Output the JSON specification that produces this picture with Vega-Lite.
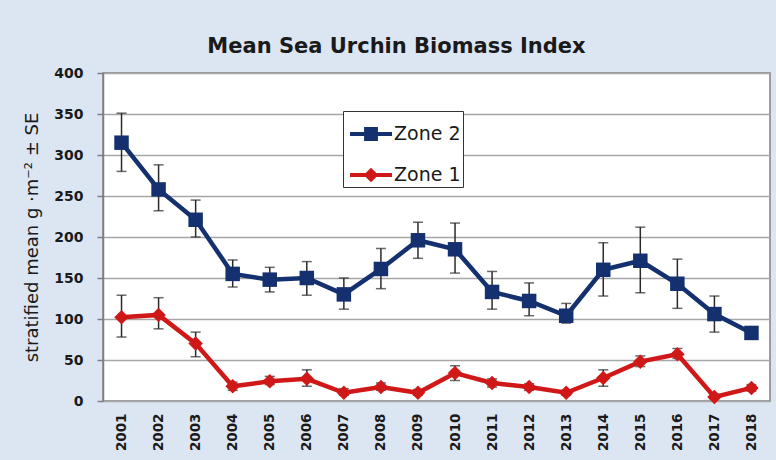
{
  "$schema": "https://vega.github.io/schema/vega-lite/v6.json",
  "width": 667,
  "height": 328,
  "autosize": {"type": "none"},
  "padding": {"left": 103, "top": 73, "right": 6, "bottom": 59},
  "background": "#dce6f2",
  "title": {
    "text": "Mean Sea Urchin Biomass Index",
    "font": "DejaVu Sans",
    "fontSize": 21,
    "fontWeight": "bold",
    "color": "#1a1a1a",
    "anchor": "middle",
    "frame": "bounds",
    "offset": 9
  },
  "config": {
    "view": {"stroke": "#808080", "strokeWidth": 1.5, "fill": "white"},
    "axis": {"labelColor": "#1a1a1a", "titleColor": "#1a1a1a"}
  },
  "data": {
    "values": [
      {"year": "2001", "zone": "Zone 2", "mean": 315, "lo": 280, "hi": 351},
      {"year": "2002", "zone": "Zone 2", "mean": 258, "lo": 232, "hi": 288},
      {"year": "2003", "zone": "Zone 2", "mean": 221, "lo": 200, "hi": 245},
      {"year": "2004", "zone": "Zone 2", "mean": 155, "lo": 139, "hi": 172},
      {"year": "2005", "zone": "Zone 2", "mean": 148, "lo": 133, "hi": 163},
      {"year": "2006", "zone": "Zone 2", "mean": 150, "lo": 129, "hi": 170},
      {"year": "2007", "zone": "Zone 2", "mean": 130, "lo": 112, "hi": 150},
      {"year": "2008", "zone": "Zone 2", "mean": 161, "lo": 137, "hi": 186},
      {"year": "2009", "zone": "Zone 2", "mean": 196, "lo": 174, "hi": 218},
      {"year": "2010", "zone": "Zone 2", "mean": 185, "lo": 156, "hi": 217},
      {"year": "2011", "zone": "Zone 2", "mean": 133, "lo": 112, "hi": 158},
      {"year": "2012", "zone": "Zone 2", "mean": 122, "lo": 104, "hi": 144},
      {"year": "2013", "zone": "Zone 2", "mean": 104, "lo": 95, "hi": 119},
      {"year": "2014", "zone": "Zone 2", "mean": 160, "lo": 128, "hi": 193},
      {"year": "2015", "zone": "Zone 2", "mean": 171, "lo": 132, "hi": 212},
      {"year": "2016", "zone": "Zone 2", "mean": 143, "lo": 113, "hi": 173},
      {"year": "2017", "zone": "Zone 2", "mean": 106, "lo": 84, "hi": 128},
      {"year": "2018", "zone": "Zone 2", "mean": 83, "lo": 83, "hi": 83},
      {"year": "2001", "zone": "Zone 1", "mean": 102, "lo": 78, "hi": 129},
      {"year": "2002", "zone": "Zone 1", "mean": 105, "lo": 88, "hi": 126},
      {"year": "2003", "zone": "Zone 1", "mean": 70, "lo": 54, "hi": 84},
      {"year": "2004", "zone": "Zone 1", "mean": 18, "lo": 13, "hi": 23},
      {"year": "2005", "zone": "Zone 1", "mean": 24, "lo": 20, "hi": 30},
      {"year": "2006", "zone": "Zone 1", "mean": 27, "lo": 18, "hi": 38},
      {"year": "2007", "zone": "Zone 1", "mean": 10, "lo": 7, "hi": 15},
      {"year": "2008", "zone": "Zone 1", "mean": 17, "lo": 13, "hi": 22},
      {"year": "2009", "zone": "Zone 1", "mean": 10, "lo": 7, "hi": 14},
      {"year": "2010", "zone": "Zone 1", "mean": 34, "lo": 25, "hi": 43},
      {"year": "2011", "zone": "Zone 1", "mean": 22, "lo": 17, "hi": 27},
      {"year": "2012", "zone": "Zone 1", "mean": 17, "lo": 13, "hi": 21},
      {"year": "2013", "zone": "Zone 1", "mean": 10, "lo": 7, "hi": 13},
      {"year": "2014", "zone": "Zone 1", "mean": 28, "lo": 18, "hi": 38},
      {"year": "2015", "zone": "Zone 1", "mean": 48, "lo": 42, "hi": 55},
      {"year": "2016", "zone": "Zone 1", "mean": 57, "lo": 52, "hi": 64},
      {"year": "2017", "zone": "Zone 1", "mean": 5, "lo": 3, "hi": 8},
      {"year": "2018", "zone": "Zone 1", "mean": 16, "lo": 12, "hi": 20}
    ]
  },
  "encoding": {
    "x": {
      "field": "year",
      "type": "ordinal",
      "scale": {"type": "point", "padding": 0.5},
      "axis": {
        "title": null,
        "labelAngle": -90,
        "labelFont": "DejaVu Sans",
        "labelFontSize": 13.5,
        "labelFontWeight": "bold",
        "labelPadding": 12,
        "ticks": false,
        "domain": false,
        "grid": false
      }
    }
  },
  "layer": [
    {
      "mark": {"type": "rule", "color": "#2a2a2a", "strokeWidth": 1.5},
      "encoding": {
        "y": {
          "field": "lo",
          "type": "quantitative",
          "scale": {"domain": [0, 400], "nice": false},
          "axis": {
            "title": "stratified mean g ·m⁻² ± SE",
            "titleFont": "DejaVu Sans",
            "titleFontSize": 18,
            "titleFontWeight": "normal",
            "titleX": -71,
            "titleY": 164,
            "titleAngle": -90,
            "titleBaseline": "middle",
            "titleAlign": "center",
            "values": [0, 50, 100, 150, 200, 250, 300, 350, 400],
            "labelFont": "DejaVu Sans",
            "labelFontSize": 14,
            "labelFontWeight": "bold",
            "labelPadding": 14,
            "tickSize": 6,
            "tickColor": "#7f7f7f",
            "tickWidth": 1.5,
            "domainColor": "#7f7f7f",
            "domainWidth": 1.5,
            "gridColor": "#a6a6a6",
            "gridWidth": 1.5
          }
        },
        "y2": {"field": "hi"}
      }
    },
    {
      "mark": {"type": "tick", "color": "#2a2a2a", "size": 10, "thickness": 1.5},
      "encoding": {"y": {"field": "hi", "type": "quantitative"}}
    },
    {
      "mark": {"type": "tick", "color": "#2a2a2a", "size": 10, "thickness": 1.5},
      "encoding": {"y": {"field": "lo", "type": "quantitative"}}
    },
    {
      "mark": {"type": "point", "filled": true, "opacity": 0},
      "encoding": {
        "y": {"field": "mean", "type": "quantitative"},
        "color": {
          "field": "zone",
          "type": "nominal",
          "scale": {"domain": ["Zone 2", "Zone 1"], "range": ["#14306e", "#d01818"]},
          "legend": {
            "title": null,
            "orient": "none",
            "legendX": 240,
            "legendY": 38,
            "fillColor": "white",
            "strokeColor": "#333333",
            "padding": 2,
            "rowPadding": 10,
            "symbolSize": 1764,
            "symbolOffset": 5,
            "symbolOpacity": 1,
            "symbolStrokeWidth": 0,
            "labelOffset": 2,
            "labelFont": "DejaVu Sans",
            "labelFontSize": 19,
            "labelColor": "#1a1a1a"
          }
        },
        "shape": {
          "field": "zone",
          "type": "nominal",
          "scale": {
            "domain": ["Zone 2", "Zone 1"],
            "range": [
              "M-1,-0.09H1V0.09H-1Z M-0.33,-0.33H0.33V0.33H-0.33Z",
              "M-1,-0.09H1V0.09H-1Z M0,-0.35L0.35,0L0,0.35L-0.35,0Z"
            ]
          },
          "legend": null
        }
      }
    },
    {
      "transform": [{"filter": "datum.zone === 'Zone 2'"}],
      "mark": {"type": "line", "strokeWidth": 4.5, "color": "#14306e"},
      "encoding": {"y": {"field": "mean", "type": "quantitative"}}
    },
    {
      "transform": [{"filter": "datum.zone === 'Zone 1'"}],
      "mark": {"type": "line", "strokeWidth": 4.5, "color": "#d01818"},
      "encoding": {"y": {"field": "mean", "type": "quantitative"}}
    },
    {
      "transform": [{"filter": "datum.zone === 'Zone 2'"}],
      "mark": {"type": "point", "shape": "square", "filled": true, "opacity": 1, "size": 210, "color": "#14306e"},
      "encoding": {"y": {"field": "mean", "type": "quantitative"}}
    },
    {
      "transform": [{"filter": "datum.zone === 'Zone 1'"}],
      "mark": {"type": "point", "shape": "diamond", "filled": true, "opacity": 1, "size": 210, "color": "#d01818"},
      "encoding": {"y": {"field": "mean", "type": "quantitative"}}
    }
  ]
}
